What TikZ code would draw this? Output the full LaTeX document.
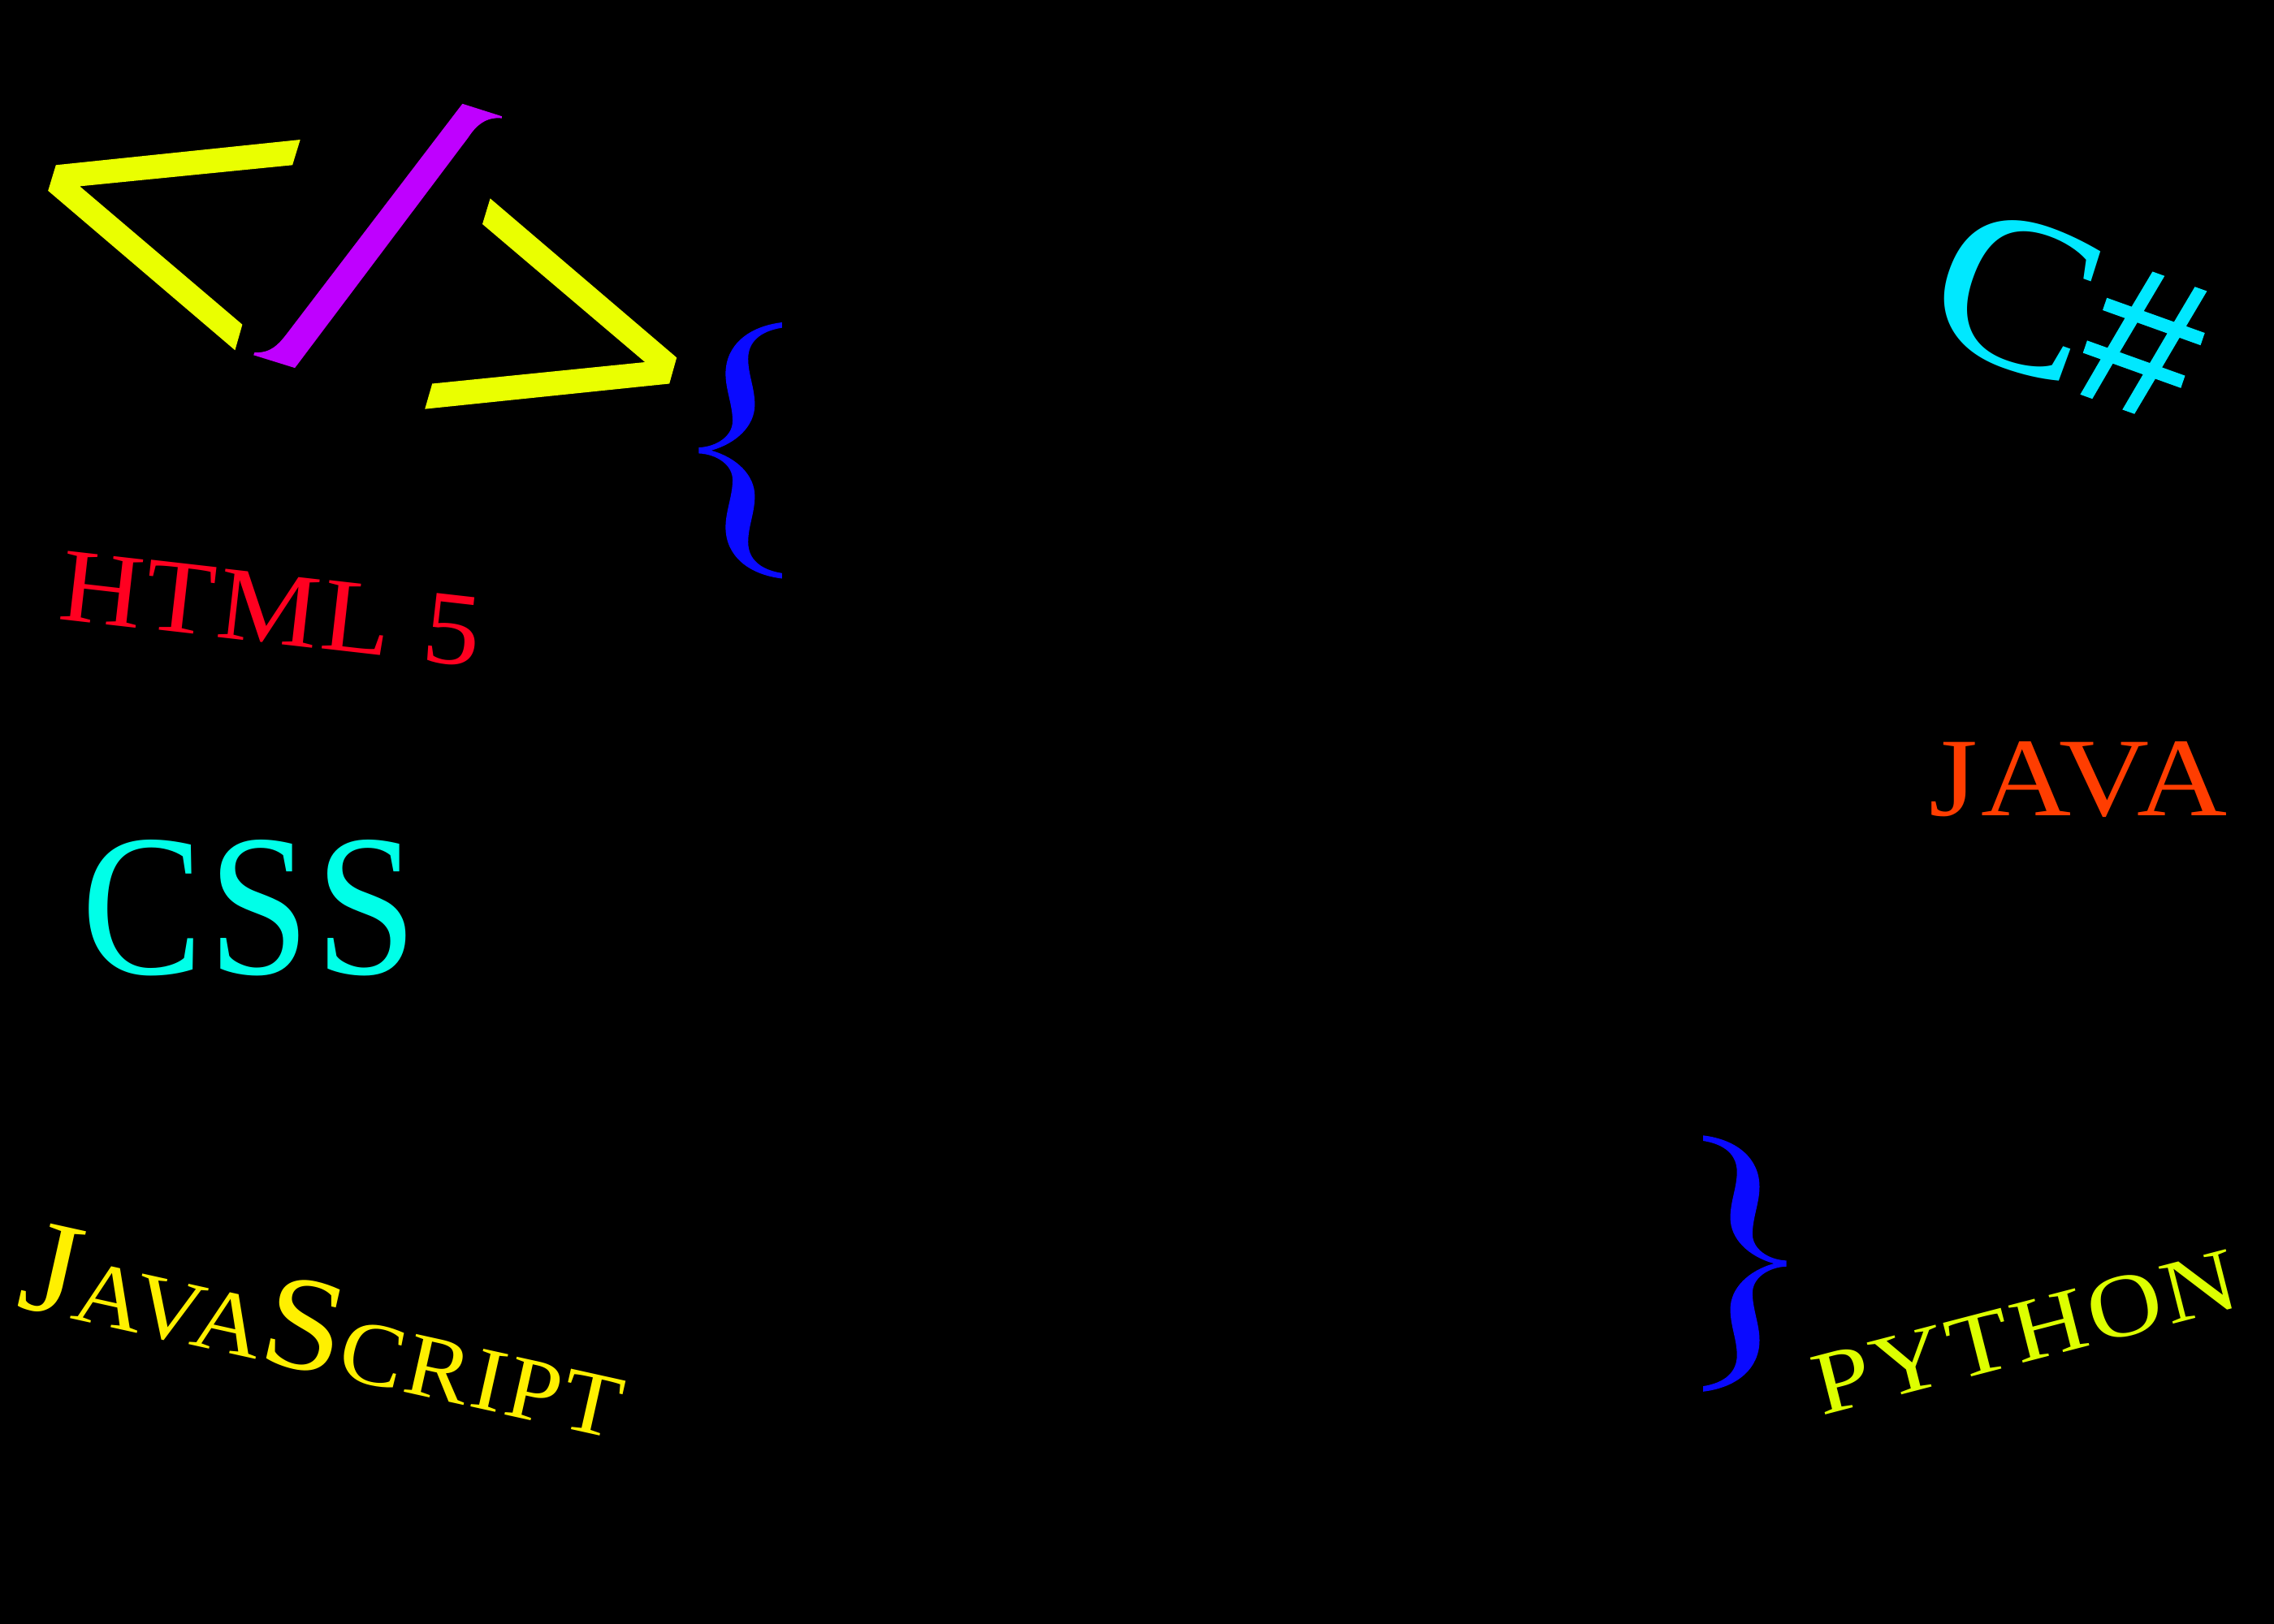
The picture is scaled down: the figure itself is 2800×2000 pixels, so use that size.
\documentclass[tikz,border=0pt]{standalone}
\usepackage{graphicx}
\usepackage{fontspec}
\newfontfamily\hashfont[FakeBold=1.2]{Liberation Sans}
\newfontfamily\capfont[LetterSpace=3]{Liberation Serif}
\definecolor{tagyellow}{HTML}{EAFF00}
\definecolor{slashpurple}{HTML}{BF00FF}
\definecolor{braceblue}{HTML}{0A0AFF}
\definecolor{htmlred}{HTML}{FF0020}
\definecolor{csscyan}{HTML}{00FFE8}
\definecolor{sharpcyan}{HTML}{00E8FF}
\definecolor{javaorange}{HTML}{FF3D00}
\definecolor{jsyellow}{HTML}{FFF000}
\definecolor{pyyellow}{HTML}{DDFF00}
\newsavebox\labbox
\newlength\labw
\newlength\labh
\newcommand\lab[9]{%
  \sbox\labbox{\pgfinterruptpicture\normalfont\capfont\fontsize{10}{10}\selectfont #9\endpgfinterruptpicture}%
  \setlength\labw{\wd\labbox}%
  \setlength\labh{\ht\labbox}%
  \pgfmathsetmacro\ma{(#4)/3.5146/\labw}%
  \pgfmathsetmacro\mb{-(#5)/3.5146/\labw}%
  \pgfmathsetmacro\mc{(#6)/3.5146/\labh}%
  \pgfmathsetmacro\md{-(#7)/3.5146/\labh}%
  \node (#1) [anchor=base west, inner sep=0pt, outer sep=0pt, transform shape,
    text=#8, cm={\ma,\mb,\mc,\md,(#2,#3)}] at (0,0) {\normalfont\capfont\fontsize{10}{10}\selectfont #9};%
}
\newcommand\bracepath{(98,55) .. controls (185,70) and (243,140) .. (243,245)
 .. controls (243,305) and (225,360) .. (225,420)
 .. controls (225,475) and (265,515) .. (312,518)
 -- (312,540)
 .. controls (265,543) and (225,583) .. (225,638)
 .. controls (225,698) and (243,753) .. (243,813)
 .. controls (243,918) and (185,988) .. (98,1003)
 -- (98,983)
 .. controls (155,970) and (185,930) .. (185,868)
 .. controls (185,810) and (168,760) .. (168,698)
 .. controls (168,620) and (215,555) .. (280,529)
 .. controls (215,503) and (168,438) .. (168,360)
 .. controls (168,298) and (185,248) .. (185,190)
 .. controls (185,128) and (155,88) .. (98,75) -- cycle}
\newcommand\smallcap[1]{{\fontsize{6.7}{6.7}\selectfont #1}}
\begin{document}
\begin{tikzpicture}[x=0.01cm,y=-0.01cm]
\fill[black] (0,0) rectangle (2800,2000);
\useasboundingbox (0,0) rectangle (2800,2000);
% tag symbol
\fill[tagyellow] (68.8,203.3) -- (369.7,172) -- (360.1,203.3) -- (98.2,229.4) -- (298.4,399.7) -- (289.4,431.3) -- (59.2,234.9) -- cycle;
\fill[tagyellow] (603.6,244.4) -- (833.2,440.4) -- (824.2,472.5) -- (523.2,503.7) -- (532.2,472.5) -- (794.2,446) -- (594,276) -- cycle;
\fill[slashpurple] (569.4,127.8) -- (617.9,143.2) -- (617.9,145.6) .. controls (597.6,143.6) and (585.6,155.5) .. (576.6,169.3) -- (363.1,453.1) -- (312.2,437.3) -- (313.4,434.1) .. controls (333.8,434.9) and (342.8,424.2) .. (353,411.2) -- cycle;
% braces
\begin{scope}[shift={(1009.9,378.7)},x=-0.004785cm,y=-0.003333cm]
\fill[braceblue] \bracepath;
\end{scope}
\begin{scope}[shift={(2050,1380)},x=0.004785cm,y=-0.003333cm]
\fill[braceblue] \bracepath;
\end{scope}
% labels
\lab{html}{70}{762}{517}{59}{9.5}{-84}{htmlred}{HTML 5}
\lab{css}{100}{1199}{414}{0}{0}{-165}{csscyan}{CSS}
\lab{js}{18}{1608}{739}{164}{24}{-107}{jsyellow}{J\smallcap{AVA}S\smallcap{CRIPT}}
\lab{csharp}{2360}{412}{315}{113}{58}{-170}{sharpcyan}{\scalebox{1.15}[1]{\fontsize{11.5}{11.5}\selectfont C}{\hashfont\fontsize{10.5}{10.5}\selectfont\#}}
\lab{java}{2375}{1004}{367}{0}{0}{-91}{javaorange}{JAVA}
\lab{python}{2243}{1743}{519}{-135}{-18}{-71}{pyyellow}{PYTHON}
\end{tikzpicture}
\end{document}
